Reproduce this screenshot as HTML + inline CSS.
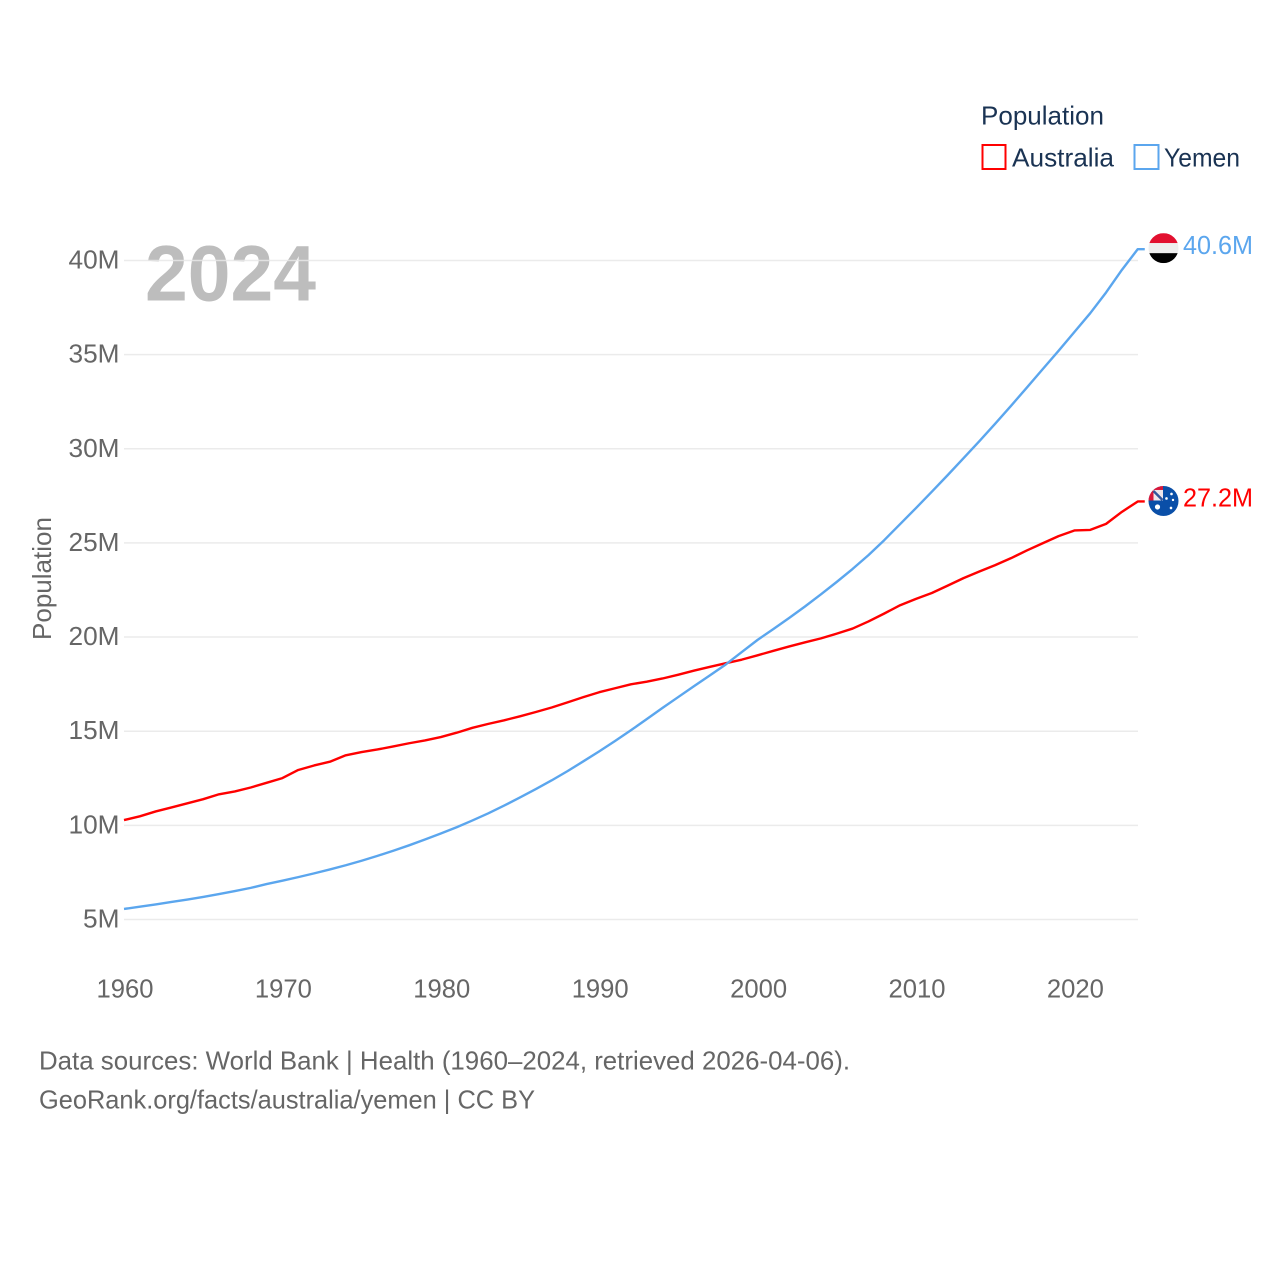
<!DOCTYPE html>
<html>
<head>
<meta charset="utf-8">
<title>Population: Australia and Yemen</title>
<style>
html,body{margin:0;padding:0;background:#fff;width:1280px;height:1280px;overflow:hidden}
svg{display:block}
text{font-family:"Liberation Sans",sans-serif}
</style>
</head>
<body>
<svg id="chart" xmlns="http://www.w3.org/2000/svg" width="1280" height="1280" viewBox="0 0 1280 1280">
  <defs>
    <clipPath id="clip-yemen"><circle id="clip-yemen-c" r="15"/></clipPath>
    <clipPath id="clip-australia"><circle id="clip-australia-c" r="15"/></clipPath>
  </defs>
  <text x="145" y="300.5" font-size="79" font-weight="700" fill="#bdbdbd" textLength="171" lengthAdjust="spacingAndGlyphs">2024</text>
  <g id="grid"></g>
  <g id="yticks"></g>
  <g id="xticks"></g>
  <text transform="translate(51,640) rotate(-90)" font-size="26" fill="#666" textLength="123" lengthAdjust="spacingAndGlyphs">Population</text>
  <g id="series"></g>
  <g id="flags"></g>
  <g>
    <text x="981" y="124.5" font-size="26" fill="#1a3353" textLength="123" lengthAdjust="spacingAndGlyphs">Population</text>
    <rect x="982.5" y="145" width="23" height="24" fill="none" stroke="#ff0000" stroke-width="2"/>
    <text x="1012" y="166.5" font-size="26" fill="#1a3353" textLength="102" lengthAdjust="spacingAndGlyphs">Australia</text>
    <rect x="1134.5" y="145" width="24" height="24" fill="none" stroke="#5ba6ee" stroke-width="2"/>
    <text x="1164" y="166.5" font-size="26" fill="#1a3353" textLength="76" lengthAdjust="spacingAndGlyphs">Yemen</text>
  </g>
  <text x="39" y="1069.5" font-size="26" fill="#666" textLength="811" lengthAdjust="spacingAndGlyphs">Data sources: World Bank | Health (1960–2024, retrieved 2026-04-06).</text>
  <text x="39" y="1108.5" font-size="26" fill="#666" textLength="496" lengthAdjust="spacingAndGlyphs">GeoRank.org/facts/australia/yemen | CC BY</text>
</svg>
<script>
const startYear = 1960;
const australiaValues = [10.28,10.48,10.74,10.95,11.17,11.39,11.65,11.80,12.01,12.26,12.51,12.94,13.18,13.38,13.72,13.89,14.03,14.19,14.36,14.51,14.69,14.92,15.18,15.39,15.58,15.79,16.02,16.26,16.53,16.81,17.07,17.28,17.49,17.63,17.80,18.00,18.22,18.42,18.61,18.80,19.03,19.27,19.50,19.72,19.93,20.18,20.45,20.83,21.25,21.69,22.03,22.34,22.73,23.13,23.48,23.82,24.19,24.60,24.98,25.36,25.66,25.69,26.01,26.65,27.20];
const yemenValues = [5.56,5.68,5.80,5.93,6.06,6.20,6.35,6.51,6.68,6.88,7.06,7.25,7.45,7.66,7.88,8.12,8.38,8.65,8.94,9.25,9.57,9.90,10.26,10.64,11.05,11.48,11.93,12.39,12.88,13.40,13.93,14.48,15.05,15.64,16.24,16.82,17.40,17.97,18.55,19.20,19.85,20.43,21.02,21.63,22.27,22.93,23.62,24.35,25.15,26.00,26.85,27.72,28.60,29.50,30.40,31.33,32.28,33.25,34.23,35.20,36.20,37.20,38.30,39.50,40.60];
const yTickValues = [5,10,15,20,25,30,35,40];
const xTickYears = [1960,1970,1980,1990,2000,2010,2020];
const endLabels = ["27.2M","40.6M"];

const NS = "http://www.w3.org/2000/svg";
function xScale(year){ return 124 + (year - 1960) * 15.84; }
function yScale(v){ return 919.5 - (v - 5) * 18.83; }
function make(tag, attrs, parent){
  const el = document.createElementNS(NS, tag);
  for (const k in attrs) el.setAttribute(k, attrs[k]);
  parent.appendChild(el);
  return el;
}
const grid = document.getElementById("grid");
const yticks = document.getElementById("yticks");
const xticks = document.getElementById("xticks");
const series = document.getElementById("series");
const flags = document.getElementById("flags");

yTickValues.forEach(function(v){
  const line = make("line", {x1:124, x2:1138, y1:yScale(v), y2:yScale(v), stroke:"#e8e8e8", "stroke-width":1.5, "stroke-opacity":0.85}, grid);
  
  
  const label = v + "M";
  const t = make("text", {x:119.5, y:yScale(v)+8, "text-anchor":"end", "font-size":26, fill:"#666", textLength:label.length === 3 ? 51 : 36.5, lengthAdjust:"spacingAndGlyphs"}, yticks);
  
  
  t.textContent = label;
});
xTickYears.forEach(function(y){
  const t = make("text", {x:xScale(y)+1, y:997.5, "text-anchor":"middle", "font-size":26, fill:"#666", textLength:57, lengthAdjust:"spacingAndGlyphs"}, xticks);
  
  
  t.textContent = y;
});
function drawSeries(values, color, name){
  const pts = values.map(function(v,i){ return xScale(startYear+i).toFixed(2)+","+yScale(v).toFixed(2); });
  const last = values[values.length-1];
  pts.push((xScale(startYear+values.length-1)+7).toFixed(2)+","+yScale(last).toFixed(2));
  const p = make("polyline", {points:pts.join(" "), fill:"none", stroke:color, "stroke-width":2.4, "stroke-linejoin":"round"}, series);
  
  
}
drawSeries(australiaValues, "#ff0000", "line-australia");
drawSeries(yemenValues, "#5ba6ee", "line-yemen");

const fx = 1163.5;
const ya = yScale(australiaValues[australiaValues.length-1]);
const yy = yScale(yemenValues[yemenValues.length-1]);
const fya = ya - 0.5;
const fyy = yy - 1;
document.getElementById("clip-yemen-c").setAttribute("cx", fx);
document.getElementById("clip-yemen-c").setAttribute("cy", fyy);
document.getElementById("clip-australia-c").setAttribute("cx", fx);
document.getElementById("clip-australia-c").setAttribute("cy", fya);

const gy = make("g", {"clip-path":"url(#clip-yemen)"}, flags);


make("rect", {x:fx-15, y:fyy-15, width:30, height:10, fill:"#e2102f"}, gy);
make("rect", {x:fx-15, y:fyy-5, width:30, height:10, fill:"#eeeeee"}, gy);
make("rect", {x:fx-15, y:fyy+5, width:30, height:10, fill:"#000000"}, gy);

const ga = make("g", {"clip-path":"url(#clip-australia)"}, flags);


make("rect", {x:fx-15, y:fya-15, width:30, height:30, fill:"#0a4fa8"}, ga);
make("rect", {x:fx-15, y:fya-15, width:15, height:15, fill:"#f0e6ea"}, ga);
make("rect", {x:fx-15, y:fya-15, width:15, height:4, fill:"#d8173a"}, ga);
make("rect", {x:fx-15, y:fya-15, width:5, height:15, fill:"#d8173a"}, ga);
make("line", {x1:fx-10, y1:fya-10, x2:fx-1, y2:fya-1, stroke:"#33579c", "stroke-width":2.5}, ga);
make("path", {d:"M"+(fx-15)+" "+fya+"h15v-15", fill:"none", stroke:"#0a4fa8", "stroke-width":1}, ga);
[[-6,6,2.6],[8,-7,1.3],[3,-2.5,1.3],[9.5,-1,1.2],[7.5,7,1.3]].forEach(function(s){
  make("circle", {cx:fx+s[0], cy:fya+s[1], r:s[2], fill:"#ffffff"}, ga);
});

function endLabel(text, y, color, name){
  const t = make("text", {x:1183, y:y+5, "font-size":26, fill:color, textLength:70, lengthAdjust:"spacingAndGlyphs"}, series);
  
  
  t.textContent = text;
}
endLabel(endLabels[0], ya, "#ff0000", "value-label-australia");
endLabel(endLabels[1], yy, "#5ba6ee", "value-label-yemen");
</script>
</body>
</html>
